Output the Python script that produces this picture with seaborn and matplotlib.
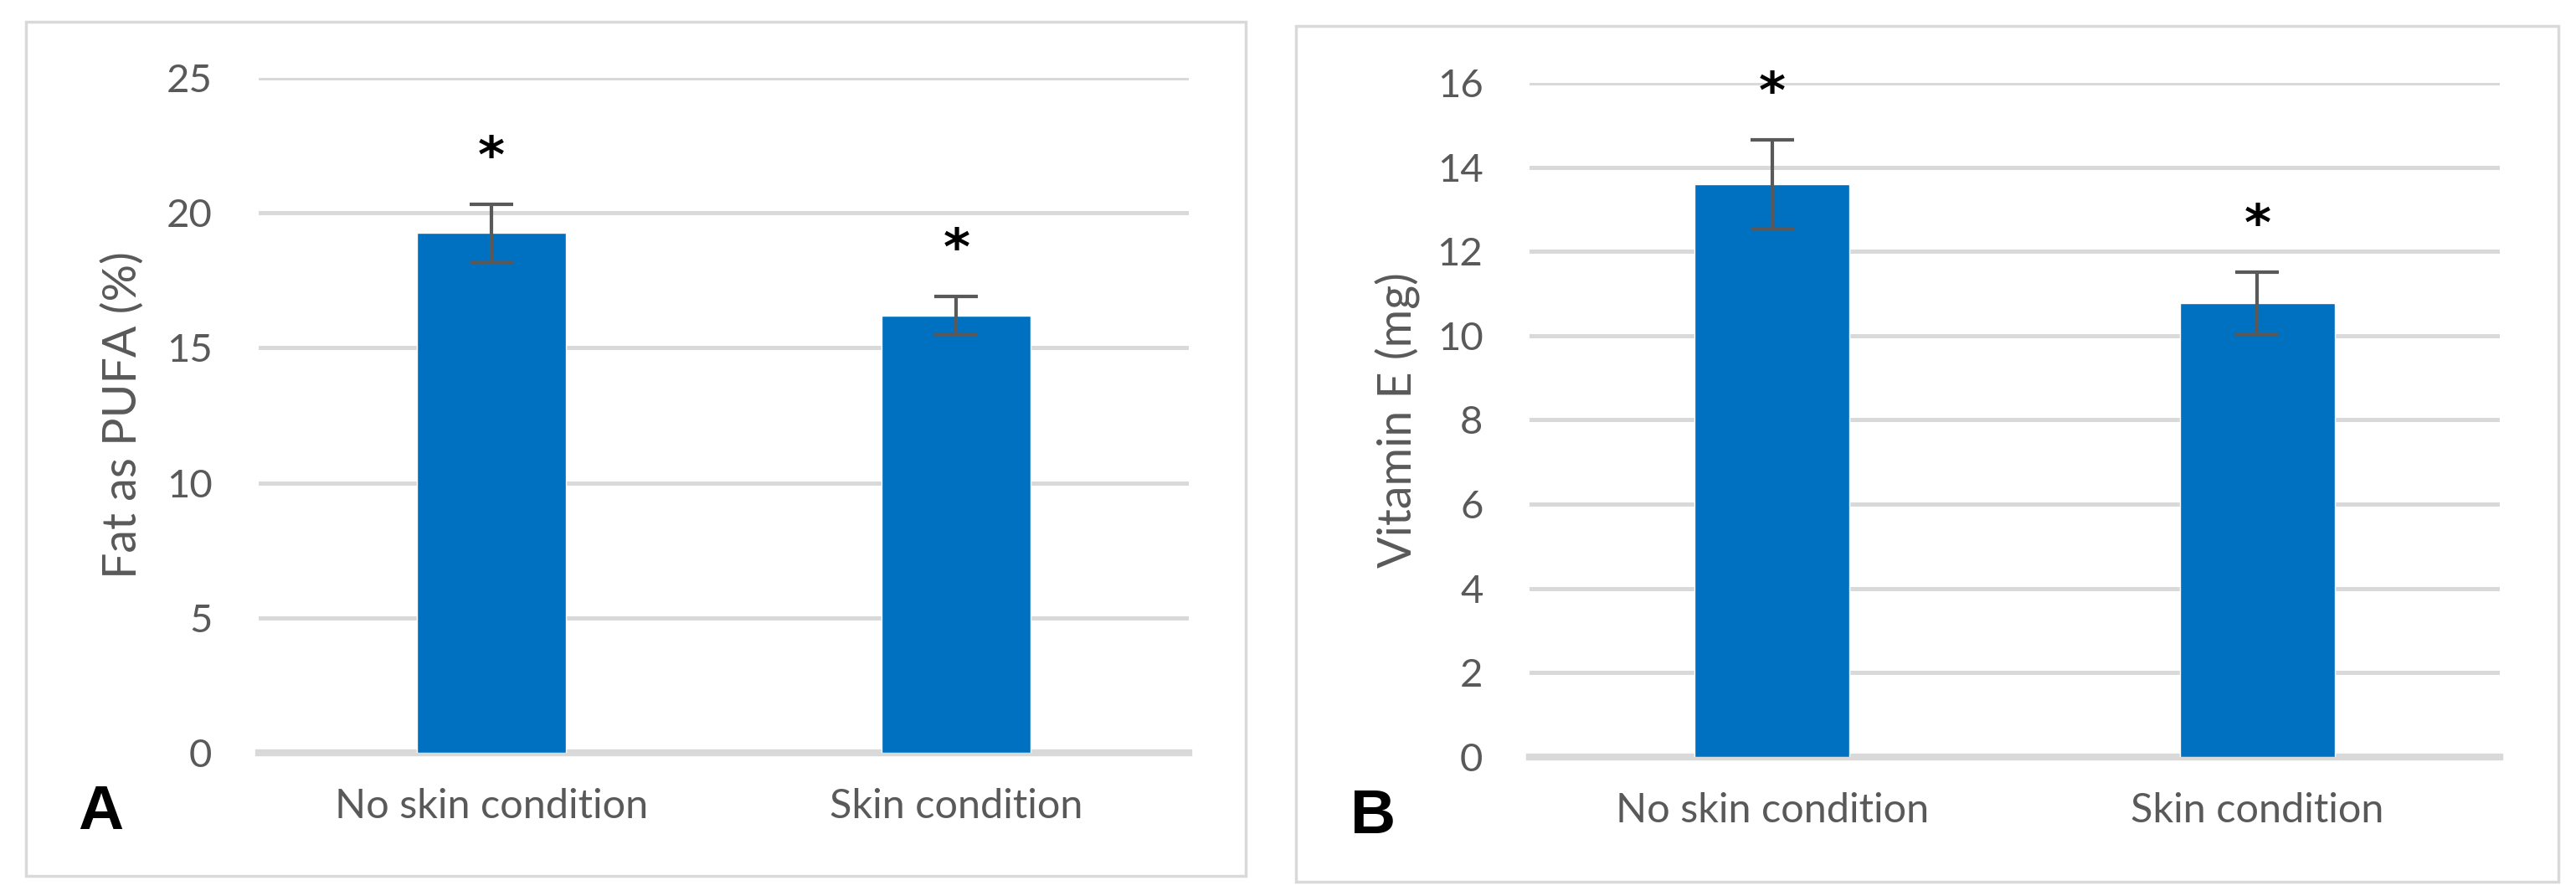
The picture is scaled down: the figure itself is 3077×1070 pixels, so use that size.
"""
Dietary PUFA and vitamin E by skin condition - two panel bar chart
"""
import numpy as np
import pandas as pd
import matplotlib
matplotlib.use("Agg")
import matplotlib.pyplot as plt
import seaborn as sns
from matplotlib.patches import Rectangle

sns.set_theme(style="white")
plt.rcParams["font.family"] = ["Lato", "DejaVu Sans"]

# data
groups = ["No skin condition", "Skin condition"]
pufa_mean = [19.25, 16.2]
pufa_err = [1.07, 0.72]
vite_mean = [13.6, 10.77]
vite_err = [1.05, 0.74]
pufa_ticks = [0, 5, 10, 15, 20, 25]
vite_ticks = [0, 2, 4, 6, 8, 10, 12, 14, 16]

BAR_COLOR = "#0070C0"
GRID_COLOR = "#d9d9d9"
TEXT_COLOR = "#595959"


def draw_panel(ax, means, errs, ticks, ylabel, label_x):
    df = pd.DataFrame({"group": groups, "value": means})
    sns.barplot(data=df, x="group", y="value", ax=ax, color=BAR_COLOR,
                saturation=1, width=0.32, errorbar=None, zorder=3)
    ax.errorbar(np.arange(len(groups)), means, yerr=errs, fmt="none",
                ecolor=TEXT_COLOR, elinewidth=3, capsize=19, capthick=3,
                zorder=4)
    # significance stars above the error bars
    for i, (m, e) in enumerate(zip(means, errs)):
        ax.annotate("*", xy=(i, m + e), xytext=(0, 18), textcoords="offset points",
                    ha="center", va="bottom", fontsize=44, fontweight="bold",
                    color="black", family="DejaVu Sans", zorder=5)

    ax.set_xlim(-0.5, len(groups) - 0.5)
    ax.set_ylim(ticks[0], ticks[-1])
    ax.set_yticks(ticks)
    ax.set_axisbelow(True)
    ax.yaxis.grid(True, color=GRID_COLOR, linewidth=3.6)
    ax.xaxis.grid(False)
    for side in ["top", "right", "left"]:
        ax.spines[side].set_visible(False)
    ax.spines["bottom"].set_color(GRID_COLOR)
    ax.spines["bottom"].set_linewidth(6)
    ax.tick_params(axis="both", length=0, labelcolor=TEXT_COLOR)
    ax.tick_params(axis="y", pad=40, labelsize=34)
    ax.tick_params(axis="x", pad=30, labelsize=35)
    ax.set_xlabel("")
    ax.set_ylabel(ylabel, fontsize=40, color=TEXT_COLOR)
    ax.yaxis.set_label_coords(label_x, 0.5)


fig = plt.figure(figsize=(30.77, 10.70), dpi=100)

# panel frames
fig.add_artist(Rectangle((31 / 3077, 24 / 1070), 1457 / 3077, 1020 / 1070,
                         transform=fig.transFigure, fill=False,
                         edgecolor=GRID_COLOR, linewidth=2.5))
fig.add_artist(Rectangle((1548 / 3077, 17 / 1070), 1508 / 3077, 1022 / 1070,
                         transform=fig.transFigure, fill=False,
                         edgecolor=GRID_COLOR, linewidth=2.5))

ax_a = fig.add_axes([0.10042, 0.15981, 0.36107, 0.75327])
ax_b = fig.add_axes([0.59376, 0.15514, 0.37667, 0.75234])

draw_panel(ax_a, pufa_mean, pufa_err, pufa_ticks, "Fat as PUFA (%)", -0.123)
draw_panel(ax_b, vite_mean, vite_err, vite_ticks, "Vitamin E (mg)", -0.112)

fig.text(93 / 3077, 1 - 990 / 1070, "A", fontsize=54, fontweight="bold",
         family="Liberation Sans", color="black", ha="left", va="baseline")
fig.text(1613 / 3077, 1 - 995 / 1070, "B", fontsize=54, fontweight="bold",
         family="Liberation Sans", color="black", ha="left", va="baseline")

fig.savefig("out.png", dpi=100)
plt.close(fig)
